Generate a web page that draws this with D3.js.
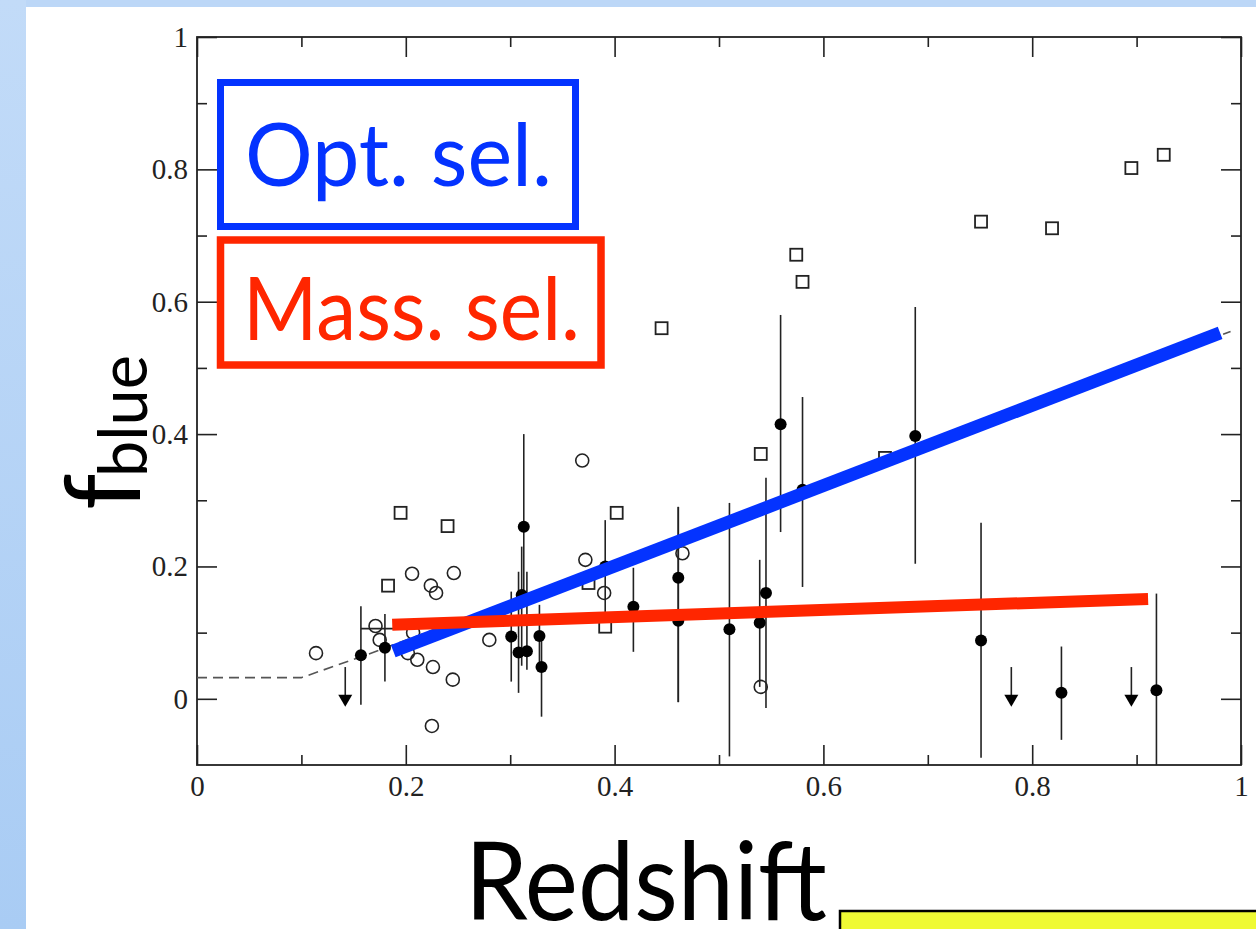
<!DOCTYPE html>
<html>
<head>
<meta charset="utf-8">
<script src="https://cdn.jsdelivr.net/npm/d3@7"></script>
<style>
  html, body { margin: 0; padding: 0; background: #ffffff; }
  svg { display: block; }
</style>
</head>
<body>
<svg id="chart" width="1256" height="929"></svg>
<script>
// ---- Data: blue-galaxy fraction versus redshift ----
const xTickValues = [0, 0.2, 0.4, 0.6, 0.8, 1];
const xTickLabels = ["0", "0.2", "0.4", "0.6", "0.8", "1"];
const yTickValues = [0, 0.2, 0.4, 0.6, 0.8, 1];
const yTickLabels = ["0", "0.2", "0.4", "0.6", "0.8", "1"];
const minorTickValues = [0.1, 0.3, 0.5, 0.7, 0.9];

// Open squares (literature clusters)
const squareZ = [0.195, 0.240, 0.183, 0.445, 0.402, 0.540, 0.574, 0.580, 0.659, 0.751, 0.819, 0.895, 0.926, 0.391, 0.375];
const squareF = [0.281, 0.261, 0.171, 0.560, 0.281, 0.370, 0.671, 0.630, 0.364, 0.721, 0.711, 0.802, 0.822, 0.109, 0.175];

// Open circles
const circleZ = [0.114, 0.171, 0.175, 0.206, 0.224, 0.229, 0.246, 0.207, 0.202, 0.211, 0.226, 0.245, 0.225, 0.280, 0.369, 0.372, 0.390, 0.465, 0.540];
const circleF = [0.069, 0.110, 0.089, 0.189, 0.171, 0.160, 0.190, 0.100, 0.069, 0.059, 0.048, 0.029, -0.041, 0.089, 0.360, 0.210, 0.160, 0.220, 0.018];

// Filled points with vertical error bars
const dotZ  = [0.157, 0.180, 0.301, 0.308, 0.316, 0.313, 0.311, 0.328, 0.330, 0.391, 0.418, 0.461, 0.461, 0.510, 0.539, 0.545, 0.559, 0.580, 0.688, 0.751, 0.828, 0.919];
const dotF  = [0.066, 0.077, 0.094, 0.070, 0.072, 0.260, 0.157, 0.095, 0.048, 0.200, 0.139, 0.183, 0.118, 0.105, 0.115, 0.160, 0.415, 0.316, 0.397, 0.088, 0.009, 0.013];
const dotLo = [-0.009, 0.026, 0.026, 0.009, 0.044, 0.150, 0.050, 0.050, -0.027, 0.130, 0.071, -0.005, -0.005, -0.087, 0.018, -0.014, 0.252, 0.169, 0.204, -0.089, -0.062, -0.100];
const dotHi = [0.140, 0.128, 0.162, 0.192, 0.192, 0.400, 0.230, 0.142, 0.100, 0.270, 0.198, 0.290, 0.290, 0.296, 0.210, 0.334, 0.580, 0.456, 0.592, 0.266, 0.079, 0.159];

// Horizontal redshift-range bar
const rangeBarZ0 = [0.157];
const rangeBarZ1 = [0.190];
const rangeBarF  = [0.106];

// Upper limits (arrows)
const limitZ = [0.142, 0.780, 0.895];
const limitTop = [0.048, 0.048, 0.048];
const limitTip = [-0.012, -0.012, -0.012];

// Dashed model curve
const modelZ = [0, 0.1, 0.16, 0.99];
const modelF = [0.032, 0.032, 0.065, 0.555];

// Fitted trends
const optFitZ = [0.188, 0.980];
const optFitF = [0.072, 0.553];
const massFitZ = [0.187, 0.911];
const massFitF = [0.112, 0.151];

// ---- Drawing ----
const svg = d3.select("#chart");
const W = 1256, H = 929;
const plot = { left: 197, right: 1241, top: 37, bottom: 765 };

const x = d3.scaleLinear().domain([0, 1]).range([plot.left, plot.right]);
const y = d3.scaleLinear().domain([-0.1, 1]).range([plot.bottom, plot.top]);

// slide background
const defs = svg.append("defs");
const grad = defs.append("linearGradient").attr("id", "sideGrad")
  .attr("x1", 0).attr("y1", 0).attr("x2", 0).attr("y2", 1);
grad.append("stop").attr("offset", "0%").attr("stop-color", "#c2dbf8");
grad.append("stop").attr("offset", "100%").attr("stop-color", "#a9ccf4");

svg.append("rect").attr("x", 0).attr("y", 0).attr("width", W).attr("height", H).attr("fill", "#ffffff");
svg.append("rect").attr("x", 0).attr("y", 0).attr("width", W).attr("height", 7).attr("fill", "#bcd7f7");
svg.append("rect").attr("x", 0).attr("y", 0).attr("width", 26).attr("height", H).attr("fill", "url(#sideGrad)");

const ink = "#222222";
const serif = "'Liberation Serif', 'Times New Roman', serif";
const sans = "Lato, 'Open Sans', sans-serif";

// axes with inward ticks on all four sides
function styleAxis(g, withLabels) {
  g.select(".domain").remove();
  g.selectAll(".tick line").attr("stroke", ink).attr("stroke-width", 1.6);
  if (withLabels) {
    g.selectAll(".tick text").attr("fill", ink)
      .style("font-family", serif).style("font-size", "29px");
  } else {
    g.selectAll(".tick text").remove();
  }
}

const fmtX = (d) => xTickLabels[xTickValues.indexOf(d)];
const fmtY = (d) => yTickLabels[yTickValues.indexOf(d)];

svg.append("g").attr("transform", `translate(0,${plot.bottom})`)
  .call(d3.axisBottom(x).tickValues(xTickValues).tickFormat(fmtX).tickSize(-20).tickPadding(10))
  .call(g => styleAxis(g, true));
svg.append("g").attr("transform", `translate(0,${plot.bottom})`)
  .call(d3.axisBottom(x).tickValues(minorTickValues).tickSize(-10))
  .call(g => styleAxis(g, false));
svg.append("g").attr("transform", `translate(0,${plot.top})`)
  .call(d3.axisTop(x).tickValues(xTickValues).tickSize(-20))
  .call(g => styleAxis(g, false));
svg.append("g").attr("transform", `translate(0,${plot.top})`)
  .call(d3.axisTop(x).tickValues(minorTickValues).tickSize(-10))
  .call(g => styleAxis(g, false));

svg.append("g").attr("transform", `translate(${plot.left},0)`)
  .call(d3.axisLeft(y).tickValues(yTickValues).tickFormat(fmtY).tickSize(-20).tickPadding(9))
  .call(g => styleAxis(g, true));
svg.append("g").attr("transform", `translate(${plot.left},0)`)
  .call(d3.axisLeft(y).tickValues(minorTickValues).tickSize(-10))
  .call(g => styleAxis(g, false));
svg.append("g").attr("transform", `translate(${plot.right},0)`)
  .call(d3.axisRight(y).tickValues(yTickValues).tickSize(-20))
  .call(g => styleAxis(g, false));
svg.append("g").attr("transform", `translate(${plot.right},0)`)
  .call(d3.axisRight(y).tickValues(minorTickValues).tickSize(-10))
  .call(g => styleAxis(g, false));

// frame
svg.append("rect")
  .attr("x", plot.left).attr("y", plot.top)
  .attr("width", plot.right - plot.left).attr("height", plot.bottom - plot.top)
  .attr("fill", "none").attr("stroke", ink).attr("stroke-width", 1.8);

// dashed model
const line = d3.line().x(d => x(d[0])).y(d => y(d[1]));
svg.append("path")
  .datum(modelZ.map((z, i) => [z, modelF[i]]))
  .attr("d", line).attr("fill", "none")
  .attr("stroke", "#555").attr("stroke-width", 1.6).attr("stroke-dasharray", "10,6");

// error bars
const dots = dotZ.map((z, i) => ({ z, f: dotF[i], lo: dotLo[i], hi: dotHi[i] }));
svg.append("g").selectAll("line").data(dots).join("line")
  .attr("x1", d => x(d.z)).attr("x2", d => x(d.z))
  .attr("y1", d => y(d.lo)).attr("y2", d => y(d.hi))
  .attr("stroke", ink).attr("stroke-width", 1.6);

// redshift range bar
const ranges = rangeBarF.map((f, i) => ({ z0: rangeBarZ0[i], z1: rangeBarZ1[i], f }));
svg.append("g").selectAll("line").data(ranges).join("line")
  .attr("x1", d => x(d.z0)).attr("x2", d => x(d.z1))
  .attr("y1", d => y(d.f)).attr("y2", d => y(d.f))
  .attr("stroke", ink).attr("stroke-width", 1.6);

// open squares
const sq = 12;
svg.append("g").selectAll("rect").data(squareZ.map((z, i) => ({ z, f: squareF[i] }))).join("rect")
  .attr("x", d => x(d.z) - sq / 2).attr("y", d => y(d.f) - sq / 2)
  .attr("width", sq).attr("height", sq)
  .attr("fill", "none").attr("stroke", ink).attr("stroke-width", 1.8);

// open circles
svg.append("g").selectAll("circle").data(circleZ.map((z, i) => ({ z, f: circleF[i] }))).join("circle")
  .attr("cx", d => x(d.z)).attr("cy", d => y(d.f)).attr("r", 6.5)
  .attr("fill", "none").attr("stroke", ink).attr("stroke-width", 1.6);

// filled points
svg.append("g").selectAll("circle").data(dots).join("circle")
  .attr("cx", d => x(d.z)).attr("cy", d => y(d.f)).attr("r", 6)
  .attr("fill", "#000");

// upper limits
const limits = limitZ.map((z, i) => ({ z, top: limitTop[i], tip: limitTip[i] }));
const lg = svg.append("g");
lg.selectAll("line").data(limits).join("line")
  .attr("x1", d => x(d.z)).attr("x2", d => x(d.z))
  .attr("y1", d => y(d.top)).attr("y2", d => y(d.tip) - 8)
  .attr("stroke", ink).attr("stroke-width", 1.6);
lg.selectAll("path").data(limits).join("path")
  .attr("d", d => {
    const cx = x(d.z), ty = y(d.tip);
    return `M${cx - 7},${ty - 12}L${cx + 7},${ty - 12}L${cx},${ty}Z`;
  })
  .attr("fill", "#000");

// trend lines
const blue = "#0433ff", red = "#ff2600";
svg.append("path")
  .datum(optFitZ.map((z, i) => [z, optFitF[i]]))
  .attr("d", line).attr("fill", "none").attr("stroke", blue).attr("stroke-width", 13);
svg.append("path")
  .datum(massFitZ.map((z, i) => [z, massFitF[i]]))
  .attr("d", line).attr("fill", "none").attr("stroke", red).attr("stroke-width", 12);

// selection boxes
svg.append("rect").attr("x", 220.5).attr("y", 82.5).attr("width", 355).attr("height", 144)
  .attr("fill", "none").attr("stroke", blue).attr("stroke-width", 7);
svg.append("text").attr("x", 245).attr("y", 186)
  .attr("textLength", 307).attr("lengthAdjust", "spacingAndGlyphs")
  .style("font-family", sans).style("font-size", "88px").attr("fill", blue)
  .text("Opt. sel.");

svg.append("rect").attr("x", 220.5).attr("y", 240).attr("width", 380.5).attr("height", 125)
  .attr("fill", "none").attr("stroke", red).attr("stroke-width", 7.5);
svg.append("text").attr("x", 243).attr("y", 340)
  .attr("textLength", 337).attr("lengthAdjust", "spacingAndGlyphs")
  .style("font-family", sans).style("font-size", "88px").attr("fill", red)
  .text("Mass. sel.");

// axis titles
svg.append("text").attr("x", 465).attr("y", 920)
  .attr("textLength", 362).attr("lengthAdjust", "spacingAndGlyphs")
  .style("font-family", sans).style("font-size", "108px").attr("fill", "#000")
  .text("Redshift");

svg.append("text").attr("transform", "translate(140,510) rotate(-90)")
  .style("font-family", sans).style("font-size", "104px").attr("fill", "#000")
  .text("f");
svg.append("text").attr("transform", "translate(147,477) rotate(-90)")
  .attr("textLength", 122).attr("lengthAdjust", "spacingAndGlyphs")
  .style("font-family", sans).style("font-size", "68px").attr("fill", "#000")
  .text("blue");

// highlight box at the lower right
svg.append("rect").attr("x", 840).attr("y", 911).attr("width", 430).attr("height", 30)
  .attr("fill", "#effa34").attr("stroke", "#000").attr("stroke-width", 2.5);
</script>
</body>
</html>
